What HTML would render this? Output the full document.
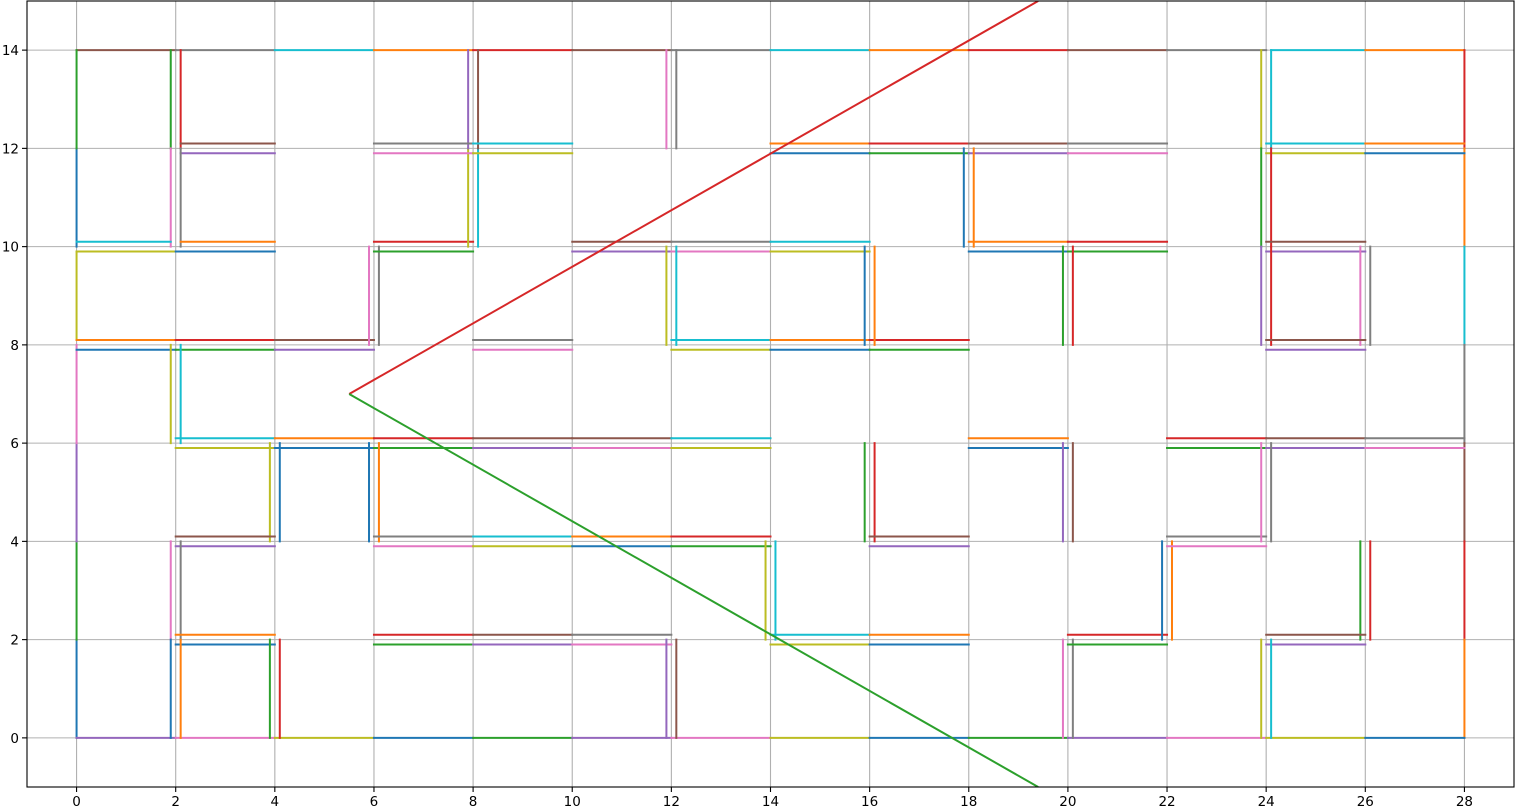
<!DOCTYPE html>
<html><head><meta charset="utf-8"><style>
body{margin:0;background:#fff;}
svg{display:block;font-family:"DejaVu Sans","Liberation Sans",sans-serif;}
</style></head><body>
<svg id="chart" width="1516" height="807" xmlns="http://www.w3.org/2000/svg"></svg>
<script>
const xTicks=[0,2,4,6,8,10,12,14,16,18,20,22,24,26,28];
const yTicks=[0,2,4,6,8,10,12,14];
const palette=["#1f77b4","#ff7f0e","#2ca02c","#d62728","#9467bd","#8c564b","#e377c2","#7f7f7f","#bcbd22","#17becf"];
const segments=[
[0,14,2,14,5],[2,14,4,14,7],[4,14,6,14,9],[6,14,8,14,1],[8,14,10,14,3],[10,14,12,14,5],[12,14,14,14,7],[14,14,16,14,9],[16,14,18,14,1],[18,14,20,14,3],[20,14,22,14,5],[22,14,24,14,7],[24.1,14,26,14,9],[26,14,28,14,1],
[0,0,0,2,0],[0,2,0,4,2],[0,4,0,6,4],[0,6,0,8,6],[0,8.1,0,9.9,8],[0,10,0,12,0],[0,12,0,14,2],
[28,14,28,12,3],[28,12,28,10,1],[28,10,28,8,9],[28,8,28,6,7],[28,6,28,4,5],[28,4,28,2,3],[28,2,28,0,1],
[0,0,2,0,4],[2,0,4,0,6],[4,0,6,0,8],[6,0,8,0,0],[8,0,10,0,2],[10,0,12,0,4],[12,0,14,0,6],[14,0,16,0,8],[16,0,18,0,0],[18,0,20,0,2],[20,0,22,0,4],[22,0,24,0,6],[24,0,26,0,8],[26,0,28,0,0],
[1.9,14,1.9,12,2],[2.1,14,2.1,12,3],[2.1,12.1,4,12.1,5],[2.1,11.9,4,11.9,4],[1.9,12,1.9,10,6],[2.1,12,2.1,10,7],
[0,10.1,1.9,10.1,9],[2.1,10.1,4,10.1,1],[0,9.9,2,9.9,8],[2,9.9,4,9.9,0],
[0,8.1,2,8.1,1],[2,8.1,4,8.1,3],[4,8.1,6,8.1,5],[0,7.9,2,7.9,0],[2,7.9,4,7.9,2],[4,7.9,6,7.9,4],
[5.9,10,5.9,8,6],[6.1,10,6.1,8,7],[6,10.1,8,10.1,3],[6,9.9,8,9.9,2],[7.9,12,7.9,10,8],[8.1,12,8.1,10,9],
[7.9,14,7.9,12,4],[8.1,14,8.1,12,5],[6,12.1,8,12.1,7],[8,12.1,10,12.1,9],[6,11.9,8,11.9,6],[8,11.9,10,11.9,8],
[11.9,14,11.9,12,6],[12.1,14,12.1,12,7],
[10,10.1,12,10.1,5],[12,10.1,14,10.1,7],[14,10.1,16,10.1,9],[10,9.9,12,9.9,4],[12,9.9,14,9.9,6],[14,9.9,16,9.9,8],
[11.9,10,11.9,8,8],[12.1,10,12.1,8,9],[12,8.1,14,8.1,9],[14,8.1,16,8.1,1],[16,8.1,18,8.1,3],[12,7.9,14,7.9,8],[14,7.9,16,7.9,0],[16,7.9,18,7.9,2],
[15.9,10,15.9,8,0],[16.1,10,16.1,8,1],
[14,12.1,16,12.1,1],[16,12.1,18,12.1,3],[18,12.1,20,12.1,5],[20,12.1,22,12.1,7],[14,11.9,16,11.9,0],[16,11.9,18,11.9,2],[18,11.9,20,11.9,4],[20,11.9,22,11.9,6],
[17.9,12,17.9,10,0],[18.1,12,18.1,10,1],[18,10.1,20,10.1,1],[20,10.1,22,10.1,3],[18,9.9,20,9.9,0],[20,9.9,22,9.9,2],
[19.9,10,19.9,8,2],[20.1,10,20.1,8,3],
[23.9,14,23.9,12,8],[24.1,14,24.1,12,9],[24,12.1,26,12.1,9],[26,12.1,28,12.1,1],[24,11.9,26,11.9,8],[26,11.9,28,11.9,0],
[23.9,12,23.9,10,2],[24.1,12,24.1,10,3],[24,10.1,26,10.1,5],[24,9.9,26,9.9,4],[23.9,10,23.9,8,4],[24.1,10,24.1,8,3],
[25.9,10,25.9,8,6],[26.1,10,26.1,8,7],[24,8.1,26,8.1,5],[24,7.9,26,7.9,4],
[8,8.1,10,8.1,7],[8,7.9,10,7.9,6],
[1.9,8,1.9,6,8],[2.1,8,2.1,6,9],
[2,6.1,4,6.1,9],[4,6.1,6,6.1,1],[6,6.1,8,6.1,3],[8,6.1,10,6.1,5],[10,6.1,12,6.1,5],[12,6.1,14,6.1,9],
[2,5.9,4,5.9,8],[4,5.9,6,5.9,0],[6,5.9,8,5.9,2],[8,5.9,10,5.9,4],[10,5.9,12,5.9,6],[12,5.9,14,5.9,8],
[3.9,6,3.9,4,8],[4.1,6,4.1,4,0],[5.9,6,5.9,4,0],[6.1,6,6.1,4,1],[2,4.1,4,4.1,5],[2,3.9,4,3.9,4],
[1.9,4,1.9,2,6],[2.1,4,2.1,2,7],[2,2.1,4,2.1,1],[2,1.9,4,1.9,0],[1.9,2,1.9,0,0],[2.1,2,2.1,0,1],[3.9,2,3.9,0,2],[4.1,2,4.1,0,3],
[6,4.1,8,4.1,7],[8,4.1,10,4.1,9],[10,4.1,12,4.1,1],[12,4.1,14,4.1,3],[6,3.9,8,3.9,6],[8,3.9,10,3.9,8],[10,3.9,12,3.9,0],[12,3.9,14,3.9,2],
[13.9,4,13.9,2,8],[14.1,4,14.1,2,9],[14,2.1,16,2.1,9],[16,2.1,18,2.1,1],[14,1.9,16,1.9,8],[16,1.9,18,1.9,0],
[6,2.1,8,2.1,3],[8,2.1,10,2.1,5],[10,2.1,12,2.1,7],[6,1.9,8,1.9,2],[8,1.9,10,1.9,4],[10,1.9,12,1.9,6],
[11.9,2,11.9,0,4],[12.1,2,12.1,0,5],
[15.9,6,15.9,4,2],[16.1,6,16.1,4,3],[16,4.1,18,4.1,5],[16,3.9,18,3.9,4],
[18,6.1,20,6.1,1],[18,5.9,20,5.9,0],[19.9,6,19.9,4,4],[20.1,6,20.1,4,5],
[19.9,2,19.9,0,6],[20.1,2,20.1,0,7],[20,2.1,22,2.1,3],[20,1.9,22,1.9,2],[21.9,4,21.9,2,0],[22.1,4,22.1,2,1],[22,4.1,24,4.1,7],[22,3.9,24,3.9,6],
[22,6.1,24,6.1,3],[24,6.1,26,6.1,5],[26,6.1,28,6.1,7],[22,5.9,24,5.9,2],[24,5.9,26,5.9,4],[26,5.9,28,5.9,6],
[23.9,6,23.9,4,6],[24.1,6,24.1,4,7],[25.9,4,25.9,2,2],[26.1,4,26.1,2,3],[24,2.1,26,2.1,5],[24,1.9,26,1.9,4],[23.9,2,23.9,0,8],[24.1,2,24.1,0,9]
];
const lineStart=[5.5,7];
const lineEnds=[[19.4,15,3],[19.4,-1,2]];

const svg=document.getElementById('chart');
const NS='http://www.w3.org/2000/svg';
const L=27,R=1514,T=1,B=787,xmin=-1,xmax=29,ymin=-1,ymax=15;
const sx=v=>L+(v-xmin)/(xmax-xmin)*(R-L);
const sy=v=>B-(v-ymin)/(ymax-ymin)*(B-T);
function mk(tag,attrs){const e=document.createElementNS(NS,tag);for(const k in attrs)e.setAttribute(k,attrs[k]);svg.appendChild(e);return e;}
const clip=mk('clipPath',{id:'pc'});
const cr=document.createElementNS(NS,'rect');cr.setAttribute('x',L);cr.setAttribute('y',T);cr.setAttribute('width',R-L);cr.setAttribute('height',B-T);clip.appendChild(cr);
xTicks.forEach(t=>{
 const g=mk('line',{x1:sx(t),x2:sx(t),y1:T,y2:B,stroke:'#b0b0b0','stroke-width':1.1});
 
 
 const tk=mk('line',{x1:sx(t),x2:sx(t),y1:B,y2:B+5,stroke:'#000','stroke-width':1.1});
 
 
 const tx=mk('text',{x:sx(t),y:B+19,'text-anchor':'middle','font-size':13.5});
 tx.textContent=t;
 
 
});
yTicks.forEach(t=>{
 const g=mk('line',{x1:L,x2:R,y1:sy(t),y2:sy(t),stroke:'#b0b0b0','stroke-width':1.1});
 
 
 const tk=mk('line',{x1:L-5,x2:L,y1:sy(t),y2:sy(t),stroke:'#000','stroke-width':1.1});
 
 
 const tx=mk('text',{x:L-8,y:sy(t)+5,'text-anchor':'end','font-size':13.5});
 tx.textContent=t;
 
 
});
segments.forEach(s=>{
 const e=mk('line',{x1:sx(s[0]),y1:sy(s[1]),x2:sx(s[2]),y2:sy(s[3]),stroke:palette[s[4]],'stroke-width':2,'stroke-linecap':'square','clip-path':'url(#pc)'});
 
 
});
lineEnds.forEach(p=>{
 const e=mk('line',{x1:sx(lineStart[0]),y1:sy(lineStart[1]),x2:sx(p[0]),y2:sy(p[1]),stroke:palette[p[2]],'stroke-width':2,'clip-path':'url(#pc)'});
 
 
});
const fr=mk('rect',{x:L,y:T,width:R-L,height:B-T,fill:'none',stroke:'#000','stroke-width':1.1});


</script>
</body></html>
